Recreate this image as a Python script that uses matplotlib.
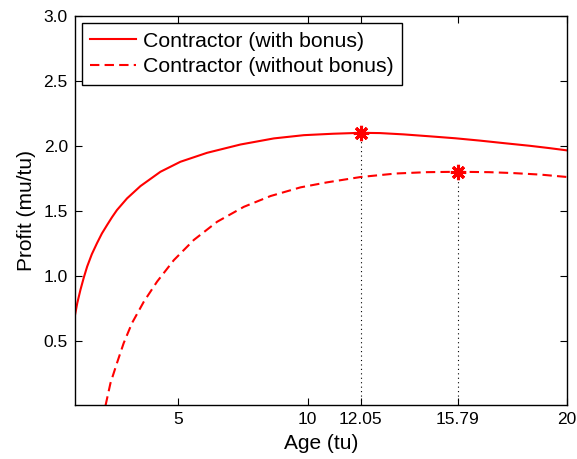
import matplotlib
matplotlib.use("Agg")
import matplotlib.pyplot as plt

plt.rcParams['font.family'] = ['Liberation Sans', 'DejaVu Sans']

# Profit rate of the contractor versus replacement age
age_bonus = [1.0, 1.1, 1.22, 1.35, 1.48, 1.66, 1.86, 2.05, 2.25, 2.44, 2.63, 3.02,
             3.54, 4.31, 5.08, 6.11, 7.40, 8.69, 9.85, 10.98, 12.05, 12.79, 13.7,
             14.72, 15.7, 16.65, 17.6, 18.58, 19.3, 20.0]
profit_bonus = [0.685, 0.79, 0.89, 0.985, 1.07, 1.165, 1.25, 1.325, 1.39, 1.45, 1.505, 1.595,
                1.69, 1.80, 1.877, 1.946, 2.01, 2.057, 2.082, 2.093, 2.10, 2.098, 2.088,
                2.073, 2.058, 2.04, 2.02, 2.0, 1.983, 1.965]

age_nobonus = [2.19, 2.38, 2.63, 2.89, 3.21, 3.67, 4.18, 4.83, 5.60, 6.50, 7.53,
               8.56, 9.72, 10.73, 12.05, 13.43, 14.6, 15.79, 17.0, 17.93, 19.0, 20.0]
profit_nobonus = [0.0, 0.172, 0.326, 0.48, 0.634, 0.80, 0.954, 1.12, 1.275, 1.415, 1.53,
                  1.613, 1.68, 1.718, 1.76, 1.787, 1.797, 1.80, 1.797, 1.79, 1.778, 1.76]

opt_age = [12.05, 15.79]
opt_profit = [2.10, 1.80]

x_ticks = [5, 10, 12.05, 15.79, 20]
x_ticklabels = ['5', '10', '12.05', '15.79', '20']
y_ticks = [0.5, 1.0, 1.5, 2.0, 2.5, 3.0]
y_ticklabels = ['0.5', '1.0', '1.5', '2.0', '2.5', '3.0']

fig = plt.figure(figsize=(5.77, 4.59), dpi=100)
ax = fig.add_axes([0.1295, 0.1166, 0.8527, 0.8486])

ax.plot(age_bonus, profit_bonus, color='red', lw=1.5, label='Contractor (with bonus)')
ax.plot(age_nobonus, profit_nobonus, color='red', lw=1.5, dashes=(4.5, 2.5),
        label='Contractor (without bonus)')

for xa, ya in zip(opt_age, opt_profit):
    ax.plot([xa, xa], [0, ya], color='black', lw=0.8, linestyle=(0, (1, 3)))
ax.plot(opt_age, opt_profit, linestyle='none', marker=(8, 2, 0), markersize=11,
        markeredgewidth=2.2, color='red')

ax.set_xlim(1, 20)
ax.set_ylim(0, 3)
ax.set_xticks(x_ticks)
ax.set_xticklabels(x_ticklabels)
ax.set_yticks(y_ticks)
ax.set_yticklabels(y_ticklabels)
ax.tick_params(direction='in', length=5, width=0.8, top=True, right=True,
               labelsize=12.5, pad=5)
for s in ax.spines.values():
    s.set_linewidth(1.0)

ax.set_xlabel('Age (tu)', fontsize=15, labelpad=5)
ax.set_ylabel('Profit (mu/tu)', fontsize=15, labelpad=5)

leg = ax.legend(loc='upper left', fontsize=15.3, frameon=True, fancybox=False,
                edgecolor='black', framealpha=1, borderpad=0.42, handlelength=2.15,
                handletextpad=0.3, labelspacing=0.3, borderaxespad=0.32)
leg.get_frame().set_linewidth(1.0)

fig.savefig('out.png', dpi=100)
